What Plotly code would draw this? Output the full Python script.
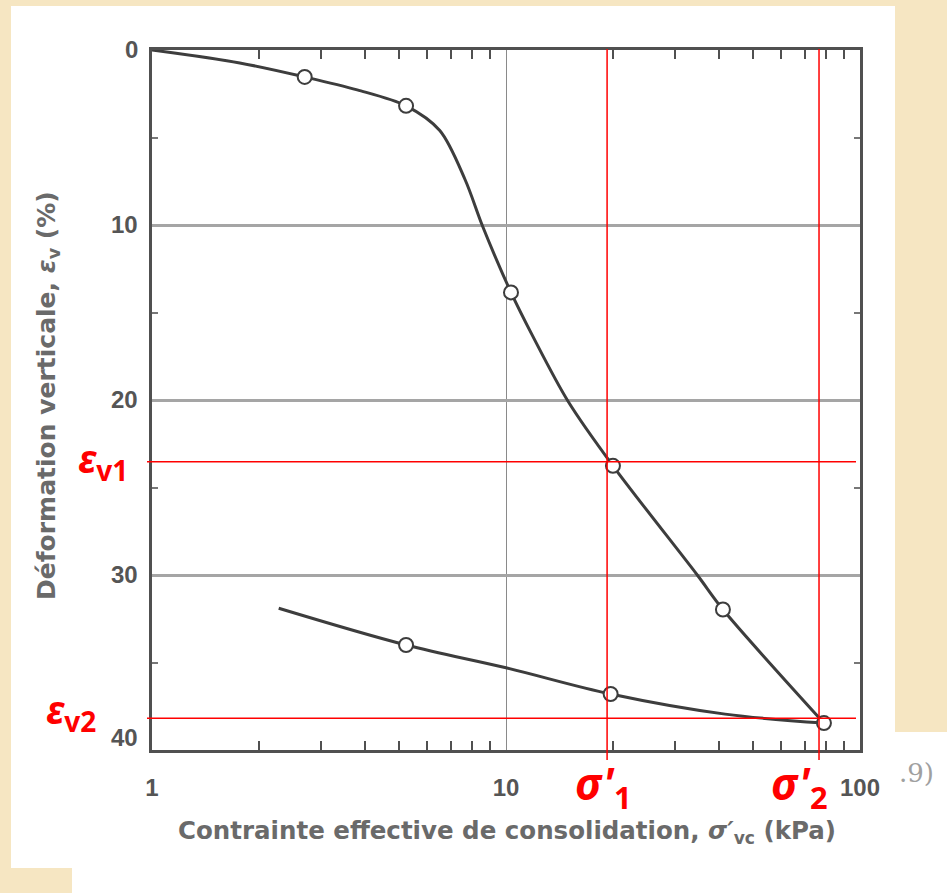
import plotly.graph_objects as go

# Oedometer test: vertical strain vs effective consolidation stress (log scale)
# Loading branch (curve trace points, kPa / %)
load_curve_sigma = [1.0, 1.77, 2.70, 3.8, 5.22, 6.5, 7.66, 8.6, 10.33, 11.9, 15.0, 20.05, 34.7, 41.0, 79.1]
load_curve_eps = [0.0, 0.74, 1.54, 2.28, 3.19, 4.6, 7.4, 10.1, 13.85, 16.35, 20.1, 23.76, 30.0, 31.97, 38.46]

# Unloading branch
unload_curve_sigma = [2.28, 5.22, 10.0, 19.75, 41.6, 79.1]
unload_curve_eps = [31.9, 34.0, 35.3, 36.8, 37.95, 38.46]

# Measured points (open circles)
load_pts_sigma = [2.70, 5.22, 10.33, 20.05, 41.0, 79.1]
load_pts_eps = [1.54, 3.19, 13.85, 23.76, 31.97, 38.46]
unload_pts_sigma = [5.22, 19.75]
unload_pts_eps = [34.0, 36.8]

# Reference stresses and strains (red guide lines)
sigma_1 = 19.3
sigma_2 = 76.6
eps_v1 = 23.53
eps_v2 = 38.18

x_tick_vals = [1, 10, 100]
x_tick_text = ["1", "10", "100"]
y_tick_vals = [0, 10, 20, 30, 40]
y_tick_text = ["0", "10", "20", "30", "40"]
x_minor_vals = [2, 3, 4, 5, 6, 7, 8, 9, 20, 30, 40, 50, 60, 70, 80, 90]
y_minor_vals = [5, 15, 25, 35]

W, H = 947, 893
ML, MR, MT, MB = 152, 87, 50, 143
PW, PH = W - ML - MR, H - MT - MB


def px(X):
    return (X - ML) / PW


def py(Y):
    return (H - MB - Y) / PH


INK = "#3d3d3d"
FRAME = "#505050"
RED = "#ff0000"
TXT = "#555555"
TITLE = "#6a6a6a"
TICK_FONT = dict(family="Liberation Sans", size=24, color=TXT)

fig = go.Figure()

fig.add_trace(go.Scatter(x=load_curve_sigma, y=load_curve_eps, mode="lines",
                         line=dict(color=INK, width=3, shape="spline", smoothing=0.9),
                         hoverinfo="skip", showlegend=False))
fig.add_trace(go.Scatter(x=unload_curve_sigma, y=unload_curve_eps, mode="lines",
                         line=dict(color=INK, width=3, shape="spline", smoothing=1.0),
                         hoverinfo="skip", showlegend=False))
fig.add_trace(go.Scatter(x=load_pts_sigma + unload_pts_sigma,
                         y=load_pts_eps + unload_pts_eps, mode="markers",
                         marker=dict(symbol="circle", size=14, color="white",
                                     line=dict(color=INK, width=2)),
                         cliponaxis=False, showlegend=False))

shapes = []
# paper panel (white scan area on beige background)
for X0, Y0, X1, Y1 in [(11, 6, 895, 868), (895, 732, 947, 893), (72, 868, 947, 893)]:
    shapes.append(dict(type="rect", xref="paper", yref="paper",
                       x0=px(X0), x1=px(X1), y0=py(Y1), y1=py(Y0),
                       fillcolor="white", line=dict(width=0), layer="below"))
# red guide lines
for s in (sigma_1, sigma_2):
    shapes.append(dict(type="line", xref="x", yref="paper", x0=s, x1=s,
                       y0=py(760), y1=py(49), line=dict(color=RED, width=1.5)))
for e in (eps_v1, eps_v2):
    shapes.append(dict(type="line", xref="paper", yref="y", x0=px(147), x1=px(856),
                       y0=e, y1=e, line=dict(color=RED, width=1.5)))

annotations = []
for v, t in zip(y_tick_vals, y_tick_text):
    annotations.append(dict(x=px(140), y=v, xref="paper", yref="y", text=f"<b>{t}</b>",
                            showarrow=False, xanchor="right", yanchor="middle",
                            yshift=13 if v == 40 else 1, font=TICK_FONT))

annotations += [
    dict(x=px(30), y=py(396), xref="paper", yref="paper",
         text="<b>Déformation verticale, <i>ε</i><sub>v</sub> (%)</b>",
         textangle=-90, showarrow=False,
         font=dict(family="DejaVu Sans", size=25, color=TITLE)),
    dict(x=px(507), y=py(850), xref="paper", yref="paper",
         text="<b>Contrainte effective de consolidation, <i>σ′</i><sub>vc</sub> (kPa)</b>",
         showarrow=False, font=dict(family="DejaVu Sans", size=24.5, color=TITLE)),
    dict(x=px(603), y=py(820), xref="paper", yref="paper",
         text="<b><i>σ'</i><sub>1</sub></b>", showarrow=False,
         font=dict(family="Noto Sans", size=44, color=RED)),
    dict(x=px(830), y=py(820), xref="paper", yref="paper",
         text="<b><i>σ'</i><sub>2</sub></b>", showarrow=False,
         font=dict(family="Noto Sans", size=44, color=RED)),
    dict(x=px(76), y=py(459), xref="paper", yref="paper",
         text="<b><i>ε</i><sub>v1</sub></b>", showarrow=False,
         font=dict(family="Noto Sans", size=40, color=RED)),
    dict(x=px(44), y=py(742), xref="paper", yref="paper",
         text="<b><i>ε</i><sub>v2</sub></b>", showarrow=False,
         font=dict(family="Noto Sans", size=40, color=RED)),
    dict(x=px(936), y=py(790), xref="paper", yref="paper", text=".9)",
         showarrow=False, font=dict(family="DejaVu Serif", size=26, color="#a0a0a0")),
]

fig.update_layout(
    width=W, height=H,
    margin=dict(l=ML, r=MR, t=MT, b=MB, pad=0),
    paper_bgcolor="#f6e6c2",
    plot_bgcolor="white",
    shapes=shapes,
    annotations=annotations,
    showlegend=False,
)

fig.update_xaxes(
    type="log", range=[0, 2],
    tickvals=x_tick_vals, ticktext=[f"<b>{t}</b>" for t in x_tick_text],
    ticks="", ticklabelstandoff=14,
    tickfont=TICK_FONT,
    showgrid=True, gridcolor="#8a8a8a", gridwidth=1,
    showline=True, linecolor=FRAME, linewidth=3, mirror="allticks",
    minor=dict(tickvals=x_minor_vals, ticks="inside", ticklen=9,
               tickcolor=FRAME, tickwidth=2, showgrid=False),
    zeroline=False,
)
fig.update_yaxes(
    range=[40, 0],
    tickvals=[10, 20, 30], showticklabels=False, ticks="",
    showgrid=True, gridcolor="#a5a5a5", gridwidth=2.5,
    showline=True, linecolor=FRAME, linewidth=3, mirror="allticks",
    minor=dict(tickvals=y_minor_vals, ticks="inside", ticklen=6,
               tickcolor="#777777", tickwidth=2, showgrid=False),
    zeroline=False,
)

fig.write_html("out.html")
